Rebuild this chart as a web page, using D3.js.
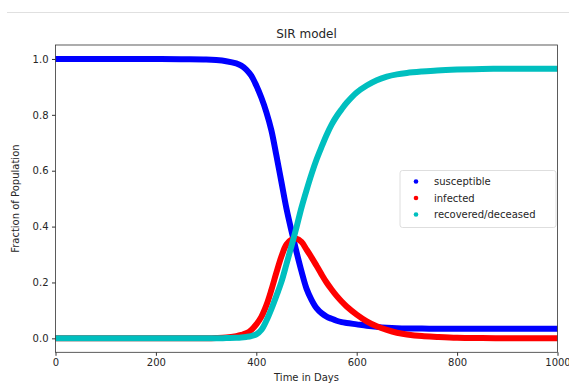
<!DOCTYPE html>
<html><head><meta charset="utf-8">
<script src="https://cdn.jsdelivr.net/npm/d3@7"></script>
<style>body{margin:0;background:#fff;} svg{display:block;font-family:"DejaVu Sans",sans-serif;}</style>
</head><body>
<svg id="c" width="569" height="385"></svg>
<script>
const days = [0,50,100,150,200,250,300,320,340,360,370,380,390,400,410,420,430,440,450,460,470,480,490,500,510,520,530,540,550,560,570,580,600,620,640,660,680,700,730,760,800,850,900,950,1000];
const susceptible = [1,1,1,1,1,0.999,0.998,0.996,0.992,0.984,0.976,0.962,0.94,0.905,0.862,0.81,0.745,0.655,0.56,0.465,0.385,0.31,0.24,0.178,0.138,0.108,0.09,0.078,0.07,0.063,0.058,0.055,0.05,0.045,0.041,0.038,0.036,0.035,0.035,0.034,0.034,0.034,0.034,0.034,0.034];
const infected = [0,0,0,0,0,0,0,0.001,0.003,0.008,0.012,0.018,0.03,0.05,0.077,0.118,0.173,0.235,0.293,0.336,0.353,0.357,0.345,0.318,0.29,0.26,0.229,0.2,0.175,0.152,0.132,0.114,0.085,0.061,0.043,0.03,0.02,0.014,0.008,0.005,0.002,0.001,0.0005,0,0];
const recovered = [0,0,0,0,0,0,0,0,0.001,0.002,0.003,0.005,0.008,0.014,0.03,0.063,0.105,0.152,0.202,0.265,0.33,0.397,0.468,0.53,0.588,0.64,0.685,0.728,0.765,0.795,0.82,0.843,0.88,0.905,0.924,0.937,0.945,0.95,0.955,0.959,0.962,0.964,0.965,0.965,0.965];
const xTicks = [0,200,400,600,800,1000];
const yTicks = [0.0,0.2,0.4,0.6,0.8,1.0];
const seriesNames = ["susceptible","infected","recovered/deceased"];
const seriesColors = ["#0000ff","#ff0000","#00bfbf"];

const svg = d3.select("#c");
const L=55.5, R=557.5, T=45, B=352.3;
const x = d3.scaleLinear().domain([0,1000]).range([L,R]);
const y = d3.scaleLinear().domain([-0.05,1.05]).range([B,T]);

// notebook separator line
svg.append("line").attr("x1",7).attr("x2",569).attr("y1",12.5).attr("y2",12.5).attr("stroke","#e0e0e0").attr("stroke-width",1);

const g = svg.append("g");
g.append("defs").append("clipPath").attr("id","clip").append("rect").attr("x",L).attr("y",T).attr("width",R-L).attr("height",B-T);

const line = d3.line().x(d=>x(d[0])).y(d=>y(d[1])).curve(d3.curveCatmullRom.alpha(0.5));
const series = [susceptible, infected, recovered];
series.forEach((s,i)=>{
  g.append("path").attr("clip-path","url(#clip)")
   .attr("d", line(days.map((d,j)=>[d,s[j]])))
   .attr("fill","none").attr("stroke",seriesColors[i]).attr("stroke-width",6)
   .attr("stroke-linecap","round").attr("stroke-linejoin","round");
});

// axes
const xa = svg.append("g").attr("transform",`translate(0,${B})`)
  .call(d3.axisBottom(x).tickValues(xTicks).tickFormat(d3.format("d")).tickSize(3.5).tickPadding(3.5));
const ya = svg.append("g").attr("transform",`translate(${L},0)`)
  .call(d3.axisLeft(y).tickValues(yTicks).tickFormat(d3.format(".1f")).tickSize(3.5).tickPadding(3.5));
[xa,ya].forEach(a=>{
  a.select(".domain").remove();
  a.selectAll("line").attr("stroke","#333");
  a.selectAll("text").attr("fill","#262626").style("font-size","10px").style("font-family","DejaVu Sans");
});
// frame
svg.append("rect").attr("x",L).attr("y",T).attr("width",R-L).attr("height",B-T)
  .attr("fill","none").attr("stroke","#333").attr("stroke-width",0.8);

svg.append("text").attr("x",(L+R)/2).attr("y",38).attr("text-anchor","middle")
  .attr("fill","#262626").style("font-size","12px").text("SIR model");
svg.append("text").attr("x",(L+R)/2).attr("y",381).attr("text-anchor","middle")
  .attr("fill","#262626").style("font-size","10px").text("Time in Days");
svg.append("text").attr("transform",`translate(19,${(T+B)/2}) rotate(-90)`).attr("text-anchor","middle")
  .attr("fill","#262626").style("font-size","10px").text("Fraction of Population");

// legend
const lg = svg.append("g");
lg.append("rect").attr("x",400).attr("y",170.5).attr("width",156).attr("height",57).attr("rx",2.5)
  .attr("fill","#fff").attr("fill-opacity",0.8).attr("stroke","#d6d6d6").attr("stroke-width",0.8);
seriesNames.forEach((n,i)=>{
  const yy = 181.5 + i*16.5;
  lg.append("circle").attr("cx",416).attr("cy",yy).attr("r",2.3).attr("fill",seriesColors[i]);
  lg.append("text").attr("x",434).attr("y",yy+3.6).attr("fill","#262626").style("font-size","10px").text(n);
});
</script>
</body></html>
